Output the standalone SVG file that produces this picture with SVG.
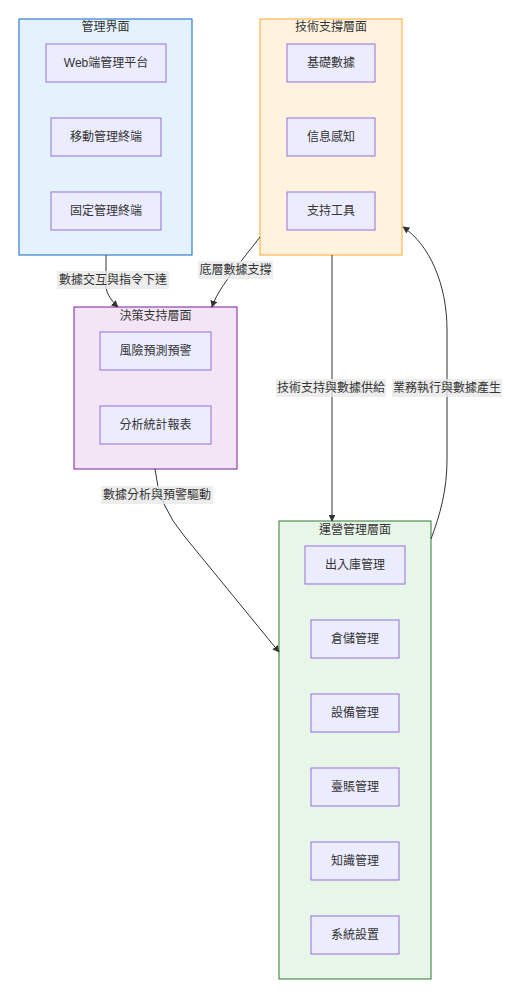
<svg xmlns="http://www.w3.org/2000/svg" width="519" height="1000" viewBox="0 0 519 1000">
<defs>
<marker id="arr" viewBox="0 0 10 10" refX="9" refY="5" markerWidth="7" markerHeight="7" orient="auto-start-reverse" markerUnits="userSpaceOnUse">
<path d="M0,0 L10,5 L0,10 z" fill="#333"/>
</marker>
<style>
text{font-family:"Liberation Sans","Noto Sans CJK TC",sans-serif;font-size:12px;fill:#333;text-anchor:middle;dominant-baseline:central}
.node rect{fill:#ececff;stroke:#9370db;stroke-width:1}
.edge{fill:none;stroke:#333;stroke-width:1;marker-end:url(#arr)}
.lbl{fill:#e8e8e8;opacity:0.8}
</style>
</defs>
<rect width="519" height="1000" fill="#fff"/>
<g id="cluster-mgmt">
<rect x="19" y="19" width="173" height="236" fill="#e3f2fd" stroke="#1565c0" stroke-width="1"/>
<text x="105.5" y="27">管理界面</text>
</g>
<g id="cluster-tech">
<rect x="260" y="19" width="142" height="236" fill="#fff3e0" stroke="#ffa726" stroke-width="1"/>
<text x="331" y="27">技術支撐層面</text>
</g>
<g id="cluster-decision">
<rect x="74" y="307" width="163" height="162" fill="#f3e5f5" stroke="#7b1fa2" stroke-width="1"/>
<text x="155.5" y="316">決策支持層面</text>
</g>
<g id="cluster-ops">
<rect x="279" y="521" width="152" height="458" fill="#e8f5e9" stroke="#2e7d32" stroke-width="1"/>
<text x="355" y="530">運營管理層面</text>
</g>
<g id="n-web" class="node"><rect x="46" y="44" width="120" height="38"/><text x="106" y="63">Web端管理平台</text></g>
<g id="n-mobile" class="node"><rect x="51" y="118" width="110" height="38"/><text x="106" y="137">移動管理終端</text></g>
<g id="n-fixed" class="node"><rect x="51" y="192" width="110" height="38"/><text x="106" y="211">固定管理終端</text></g>
<g id="n-basedata" class="node"><rect x="287" y="44" width="88" height="38"/><text x="331" y="63">基礎數據</text></g>
<g id="n-sense" class="node"><rect x="287" y="118" width="88" height="38"/><text x="331" y="137">信息感知</text></g>
<g id="n-tools" class="node"><rect x="287" y="192" width="88" height="38"/><text x="331" y="211">支持工具</text></g>
<g id="n-risk" class="node"><rect x="100" y="332" width="111" height="38"/><text x="155.5" y="351">風險預測預警</text></g>
<g id="n-report" class="node"><rect x="100" y="406" width="111" height="38"/><text x="155.5" y="425">分析統計報表</text></g>
<g id="n-inout" class="node"><rect x="305" y="546" width="100" height="38"/><text x="355" y="565">出入庫管理</text></g>
<g id="n-store" class="node"><rect x="311" y="620" width="88" height="38"/><text x="355" y="639">倉儲管理</text></g>
<g id="n-device" class="node"><rect x="311" y="694" width="88" height="38"/><text x="355" y="713">設備管理</text></g>
<g id="n-ledger" class="node"><rect x="311" y="768" width="88" height="38"/><text x="355" y="787">臺賬管理</text></g>
<g id="n-know" class="node"><rect x="311" y="842" width="88" height="38"/><text x="355" y="861">知識管理</text></g>
<g id="n-sys" class="node"><rect x="311" y="916" width="88" height="38"/><text x="355" y="935">系統設置</text></g>
<g id="connectors">
<path class="edge" d="M106,255 L106,288 Q108,298 118,307"/>
<path class="edge" d="M260,237 L242,260 C228,278 216,294 212,307"/>
<path class="edge" d="M332,255 L332,521"/>
<path class="edge" d="M431,539 C440,515 447,490 447,460 L447,330 C447,285 430,245 403,227"/>
<path class="edge" d="M155,469 Q158,505 185,537 L279,652"/>
<rect class="lbl" x="57" y="271" width="112" height="18"/>
<text x="113" y="280">數據交互與指令下達</text>
<rect class="lbl" x="198" y="261" width="75" height="18"/>
<text x="235.5" y="270">底層數據支撐</text>
<rect class="lbl" x="276" y="379" width="110" height="18"/>
<text x="331" y="388">技術支持與數據供給</text>
<rect class="lbl" x="392" y="379" width="110" height="18"/>
<text x="447" y="388">業務執行與數據產生</text>
<rect class="lbl" x="101" y="486" width="112" height="18"/>
<text x="157" y="495">數據分析與預警驅動</text>
</g>
</svg>
